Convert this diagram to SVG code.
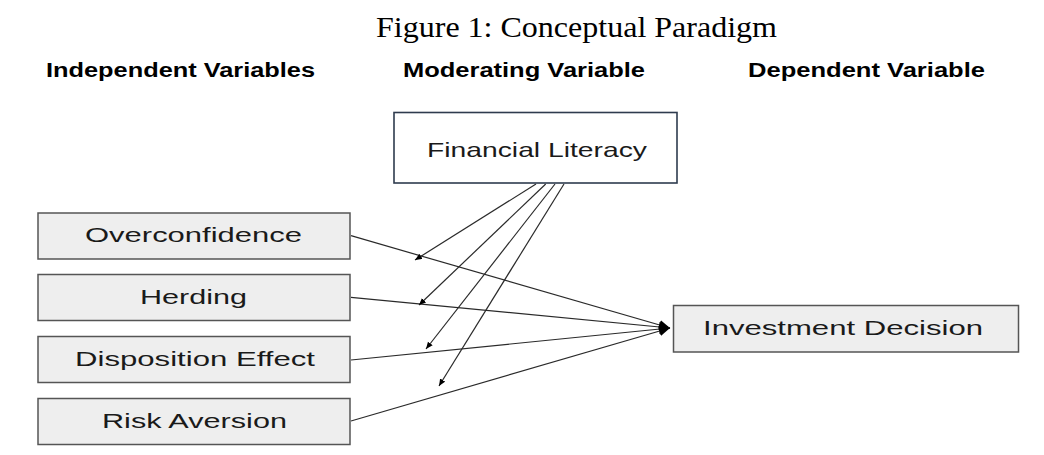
<svg xmlns="http://www.w3.org/2000/svg" width="1044" height="455" viewBox="0 0 1044 455">
  <style>
    .title { font-family: "Liberation Serif", "Times New Roman", serif; font-size: 30px; fill: #000; }
    .head { font-family: "Liberation Sans", Arial, sans-serif; font-size: 20px; font-weight: bold; fill: #000; }
    .box { fill: #eeeeee; stroke: #555555; stroke-width: 1.5; }
    .mod { fill: #ffffff; stroke: #2e3b4e; stroke-width: 1.6; }
    .label { font-family: "Liberation Sans", Arial, sans-serif; font-size: 21px; fill: #1a1a1a; }
    .edge { stroke: #2a2a2a; stroke-width: 1.2; fill: none; }
    .main { marker-end: url(#headBig); }
    .moderate { marker-end: url(#headSmall); }
  </style>
  <defs>
    <marker id="headBig" markerUnits="userSpaceOnUse" markerWidth="12" markerHeight="10" refX="11" refY="5" orient="auto">
      <path d="M0,0 L11,5 L0,10 z" fill="#000"/>
    </marker>
    <marker id="headSmall" markerUnits="userSpaceOnUse" markerWidth="8" markerHeight="7" refX="7" refY="3" orient="auto">
      <path d="M0,0 L7,3 L0,6 z" fill="#000"/>
    </marker>
  </defs>

  <rect width="1044" height="455" fill="#ffffff"/>

  <text class="title" x="376" y="37" textLength="401" lengthAdjust="spacingAndGlyphs">Figure 1: Conceptual Paradigm</text>

  <text class="head" x="46" y="77" textLength="269" lengthAdjust="spacingAndGlyphs">Independent Variables</text>
  <text class="head" x="403" y="77" textLength="242" lengthAdjust="spacingAndGlyphs">Moderating Variable</text>
  <text class="head" x="748" y="77" textLength="237" lengthAdjust="spacingAndGlyphs">Dependent Variable</text>

  <g id="connectors">
    <line class="edge main" x1="351" y1="235.7" x2="670" y2="328"/>
    <line class="edge main" x1="351" y1="297.3" x2="670" y2="328"/>
    <line class="edge main" x1="351" y1="360" x2="670" y2="328"/>
    <line class="edge main" x1="351" y1="421" x2="670" y2="328"/>
    <line class="edge moderate" x1="536" y1="184" x2="415" y2="260"/>
    <line class="edge moderate" x1="545.7" y1="184" x2="419" y2="305"/>
    <line class="edge moderate" x1="555" y1="184" x2="426" y2="349"/>
    <line class="edge moderate" x1="564" y1="184" x2="439" y2="386"/>
  </g>

  <g id="financial-literacy">
    <rect class="mod" x="394" y="112.5" width="283" height="70.5"/>
    <text class="label" x="427" y="157" font-size="25" textLength="220" lengthAdjust="spacingAndGlyphs">Financial Literacy</text>
  </g>

  <g id="overconfidence">
    <rect class="box" x="38" y="213" width="312" height="46"/>
    <text class="label" x="85" y="242" textLength="217" lengthAdjust="spacingAndGlyphs">Overconfidence</text>
  </g>

  <g id="herding">
    <rect class="box" x="38" y="274.5" width="312" height="46"/>
    <text class="label" x="140" y="304" textLength="107" lengthAdjust="spacingAndGlyphs">Herding</text>
  </g>

  <g id="disposition-effect">
    <rect class="box" x="38" y="336.5" width="312" height="46"/>
    <text class="label" x="75" y="366" textLength="240" lengthAdjust="spacingAndGlyphs">Disposition Effect</text>
  </g>

  <g id="risk-aversion">
    <rect class="box" x="38" y="398.5" width="312" height="46"/>
    <text class="label" x="102" y="428" textLength="185" lengthAdjust="spacingAndGlyphs">Risk Aversion</text>
  </g>

  <g id="investment-decision">
    <rect class="box" x="673.5" y="305.5" width="345" height="46.5"/>
    <text class="label" x="703" y="335" textLength="280" lengthAdjust="spacingAndGlyphs">Investment Decision</text>
  </g>
</svg>
